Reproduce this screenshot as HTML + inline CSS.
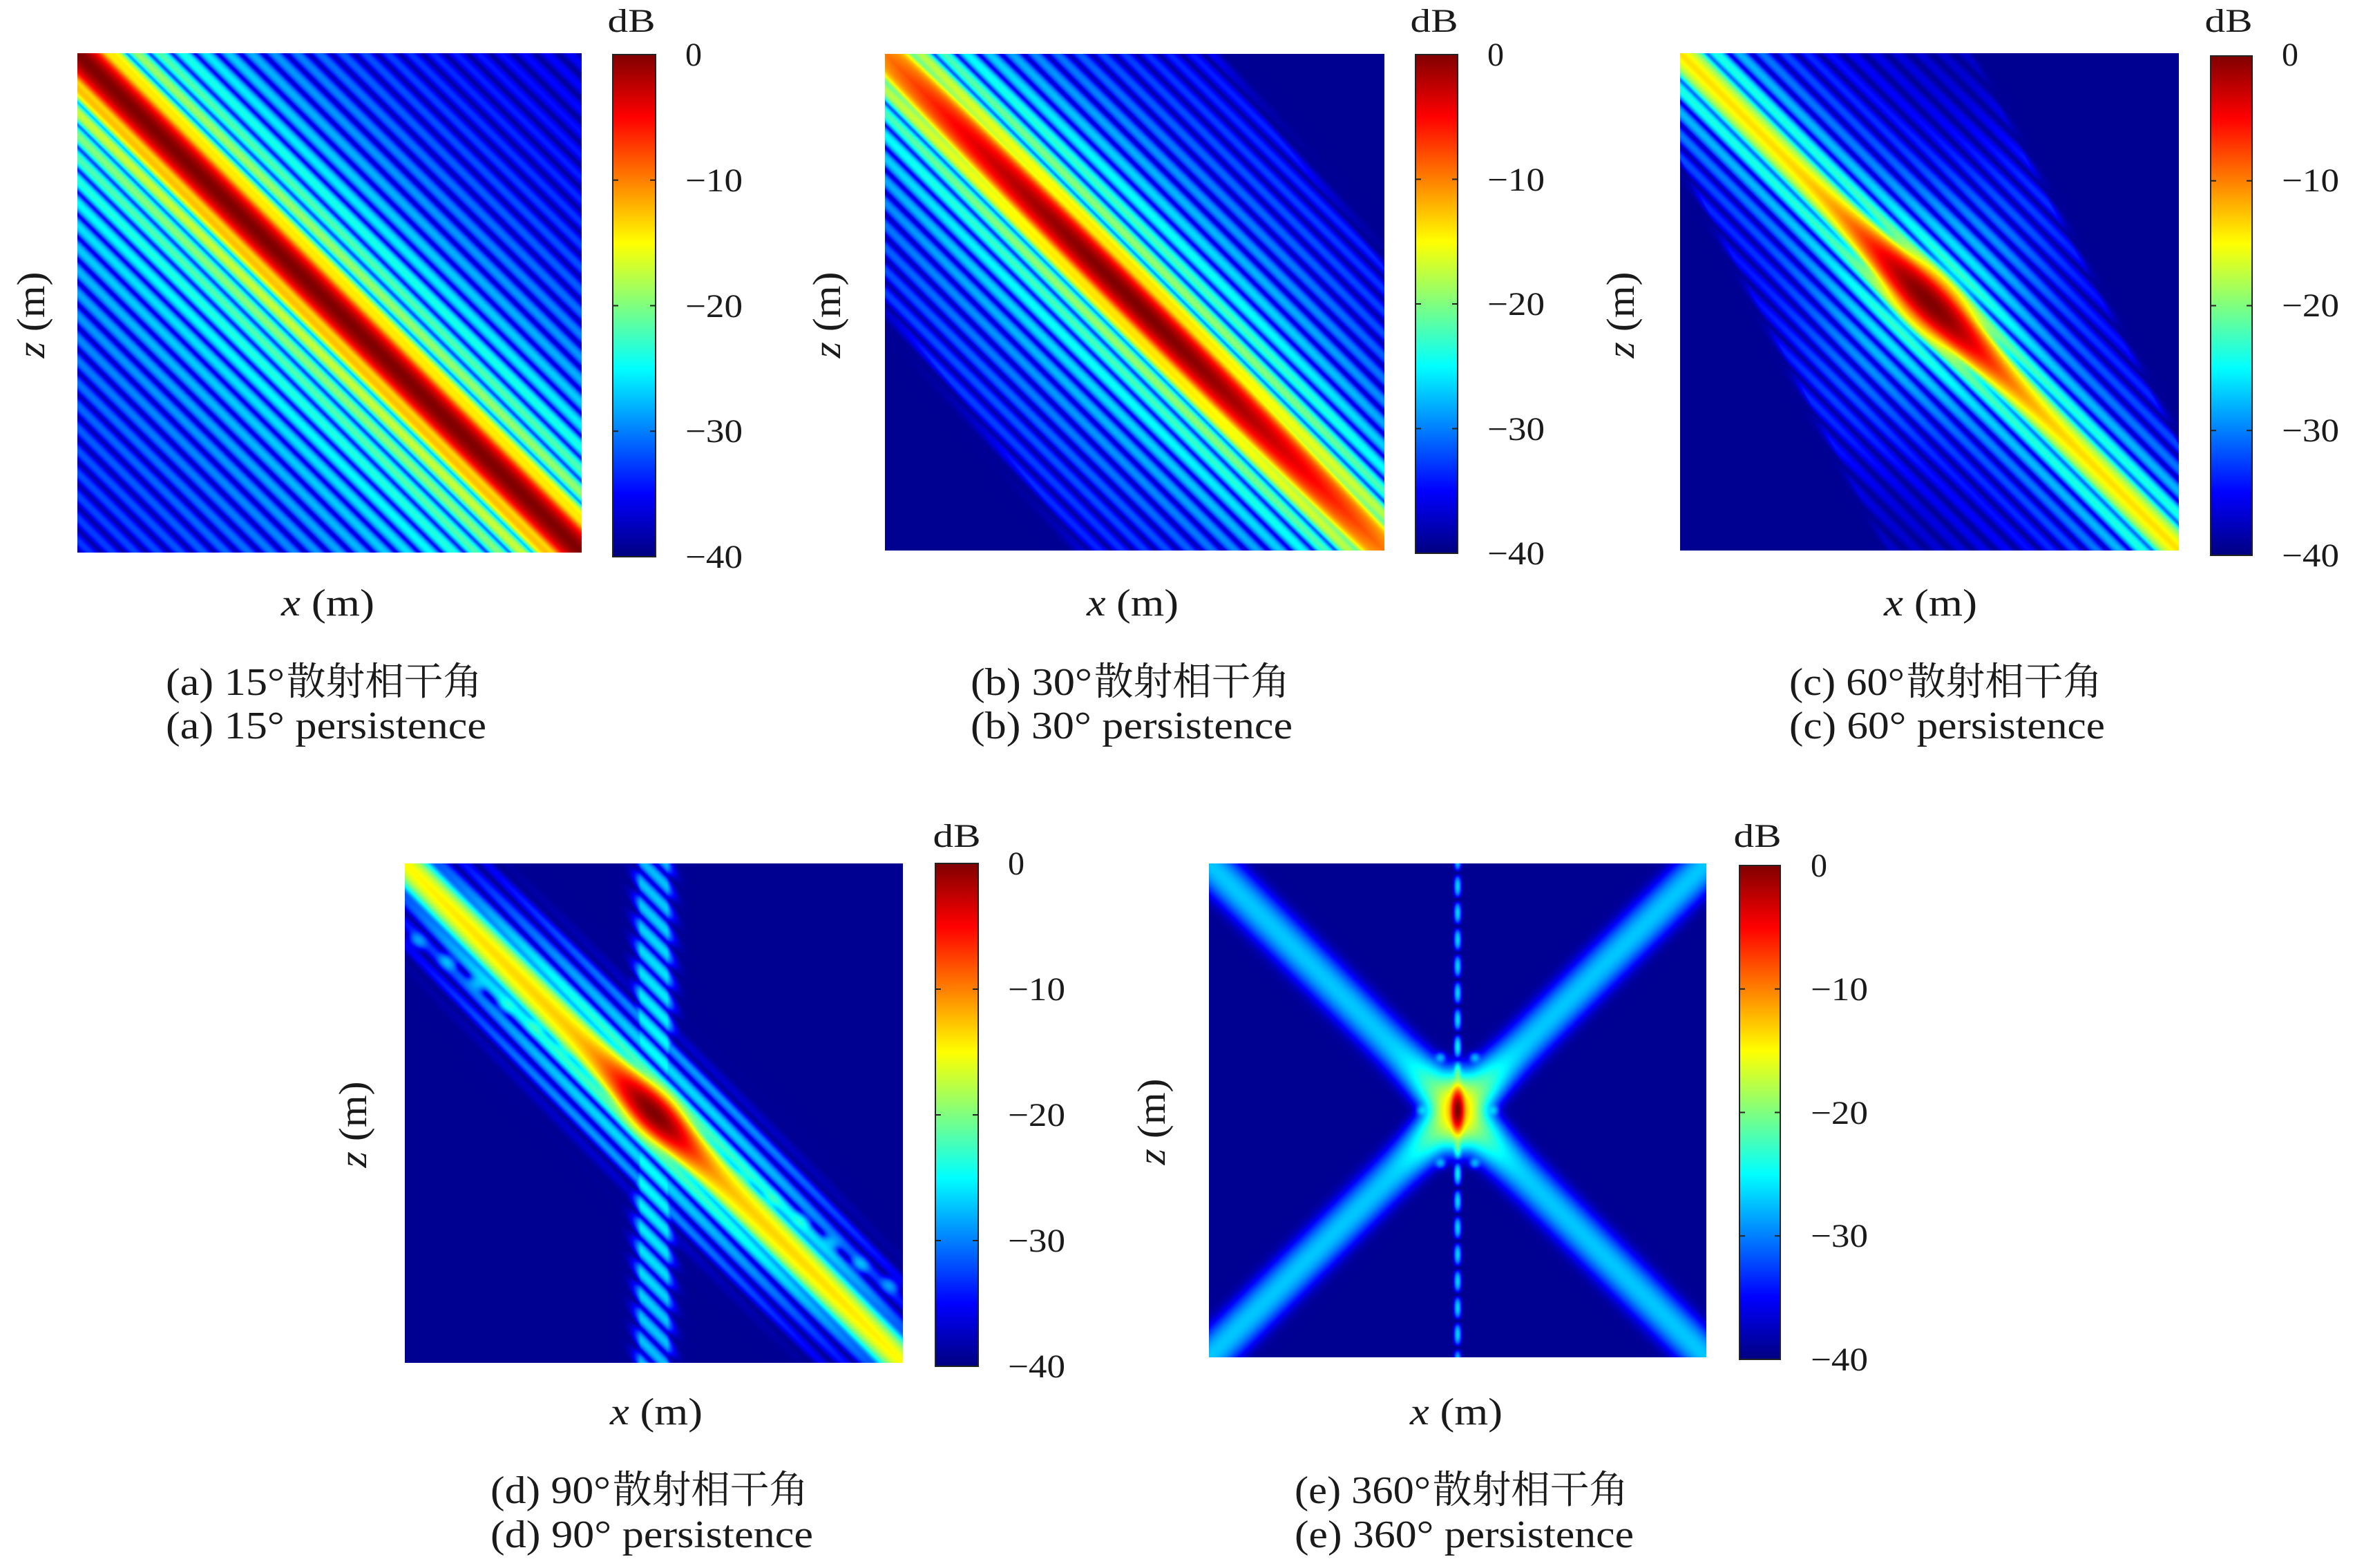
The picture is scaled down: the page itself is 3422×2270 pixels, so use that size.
<!DOCTYPE html>
<html><head><meta charset="utf-8">
<style>
html,body{margin:0;padding:0;background:#fff;}
body{width:3422px;height:2270px;position:relative;overflow:hidden;}
#ov{position:absolute;left:0;top:0;}
canvas{position:absolute;}
text{font-family:"Liberation Serif","Noto Serif CJK SC",serif;fill:#1a1a1a;}
.cj{font-family:"Noto Serif CJK SC","Noto Sans CJK SC",serif;}
</style></head><body>
<svg id="ov" width="3422" height="2270" viewBox="0 0 3422 2270" xmlns="http://www.w3.org/2000/svg">
<defs>
<linearGradient id="jet" x1="0" y1="0" x2="0" y2="1">
<stop offset="0" stop-color="#800000"/>
<stop offset="0.125" stop-color="#ff0000"/>
<stop offset="0.375" stop-color="#ffff00"/>
<stop offset="0.625" stop-color="#00ffff"/>
<stop offset="0.875" stop-color="#0000ff"/>
<stop offset="1" stop-color="#000080"/>
</linearGradient>
</defs>
<rect x="112" y="77" width="730" height="723" fill="#00008f"/>
<rect x="1281" y="78" width="723" height="719" fill="#00008f"/>
<rect x="2432" y="77" width="722" height="720" fill="#00008f"/>
<rect x="586" y="1250" width="721" height="723" fill="#00008f"/>
<rect x="1750" y="1250" width="720" height="715" fill="#00008f"/>

<g stroke="#222" stroke-width="2">
<rect x="887" y="79" width="62" height="727" fill="url(#jet)"/>
<line x1="887" y1="260.75" x2="895" y2="260.75"/><line x1="941" y1="260.75" x2="949" y2="260.75"/>
<line x1="887" y1="442.5" x2="895" y2="442.5"/><line x1="941" y1="442.5" x2="949" y2="442.5"/>
<line x1="887" y1="624.25" x2="895" y2="624.25"/><line x1="941" y1="624.25" x2="949" y2="624.25"/>

<rect x="2049" y="79" width="61" height="722" fill="url(#jet)"/>
<line x1="2049" y1="259.5" x2="2057" y2="259.5"/><line x1="2102" y1="259.5" x2="2110" y2="259.5"/>
<line x1="2049" y1="440" x2="2057" y2="440"/><line x1="2102" y1="440" x2="2110" y2="440"/>
<line x1="2049" y1="620.5" x2="2057" y2="620.5"/><line x1="2102" y1="620.5" x2="2110" y2="620.5"/>

<rect x="3200" y="81" width="60" height="723" fill="url(#jet)"/>
<line x1="3200" y1="261.75" x2="3208" y2="261.75"/><line x1="3252" y1="261.75" x2="3260" y2="261.75"/>
<line x1="3200" y1="442.5" x2="3208" y2="442.5"/><line x1="3252" y1="442.5" x2="3260" y2="442.5"/>
<line x1="3200" y1="623.25" x2="3208" y2="623.25"/><line x1="3252" y1="623.25" x2="3260" y2="623.25"/>

<rect x="1354" y="1250" width="62" height="728" fill="url(#jet)"/>
<line x1="1354" y1="1432" x2="1362" y2="1432"/><line x1="1408" y1="1432" x2="1416" y2="1432"/>
<line x1="1354" y1="1614" x2="1362" y2="1614"/><line x1="1408" y1="1614" x2="1416" y2="1614"/>
<line x1="1354" y1="1796" x2="1362" y2="1796"/><line x1="1408" y1="1796" x2="1416" y2="1796"/>

<rect x="2518" y="1253" width="59" height="715" fill="url(#jet)"/>
<line x1="2518" y1="1431.75" x2="2526" y2="1431.75"/><line x1="2569" y1="1431.75" x2="2577" y2="1431.75"/>
<line x1="2518" y1="1610.5" x2="2526" y2="1610.5"/><line x1="2569" y1="1610.5" x2="2577" y2="1610.5"/>
<line x1="2518" y1="1789.25" x2="2526" y2="1789.25"/><line x1="2569" y1="1789.25" x2="2577" y2="1789.25"/>
</g>

<g font-size="48" text-anchor="middle">
<text x="914" y="46" textLength="69" lengthAdjust="spacingAndGlyphs">dB</text>
<text x="2076" y="46" textLength="69" lengthAdjust="spacingAndGlyphs">dB</text>
<text x="3226" y="46" textLength="69" lengthAdjust="spacingAndGlyphs">dB</text>
<text x="1385" y="1226" textLength="69" lengthAdjust="spacingAndGlyphs">dB</text>
<text x="2544" y="1226" textLength="69" lengthAdjust="spacingAndGlyphs">dB</text>
</g>

<g font-size="48">
<text x="992" y="95" textLength="24" lengthAdjust="spacingAndGlyphs">0</text>
<text x="992" y="277" textLength="83" lengthAdjust="spacingAndGlyphs">−10</text>
<text x="992" y="459" textLength="83" lengthAdjust="spacingAndGlyphs">−20</text>
<text x="992" y="640" textLength="83" lengthAdjust="spacingAndGlyphs">−30</text>
<text x="992" y="822" textLength="83" lengthAdjust="spacingAndGlyphs">−40</text>

<text x="2153" y="95" textLength="24" lengthAdjust="spacingAndGlyphs">0</text>
<text x="2153" y="276" textLength="83" lengthAdjust="spacingAndGlyphs">−10</text>
<text x="2153" y="456" textLength="83" lengthAdjust="spacingAndGlyphs">−20</text>
<text x="2153" y="637" textLength="83" lengthAdjust="spacingAndGlyphs">−30</text>
<text x="2153" y="817" textLength="83" lengthAdjust="spacingAndGlyphs">−40</text>

<text x="3303" y="95" textLength="24" lengthAdjust="spacingAndGlyphs">0</text>
<text x="3303" y="277" textLength="83" lengthAdjust="spacingAndGlyphs">−10</text>
<text x="3303" y="458" textLength="83" lengthAdjust="spacingAndGlyphs">−20</text>
<text x="3303" y="639" textLength="83" lengthAdjust="spacingAndGlyphs">−30</text>
<text x="3303" y="820" textLength="83" lengthAdjust="spacingAndGlyphs">−40</text>

<text x="1459" y="1266" textLength="24" lengthAdjust="spacingAndGlyphs">0</text>
<text x="1459" y="1448" textLength="83" lengthAdjust="spacingAndGlyphs">−10</text>
<text x="1459" y="1630" textLength="83" lengthAdjust="spacingAndGlyphs">−20</text>
<text x="1459" y="1812" textLength="83" lengthAdjust="spacingAndGlyphs">−30</text>
<text x="1459" y="1994" textLength="83" lengthAdjust="spacingAndGlyphs">−40</text>

<text x="2621" y="1269" textLength="24" lengthAdjust="spacingAndGlyphs">0</text>
<text x="2621" y="1448" textLength="83" lengthAdjust="spacingAndGlyphs">−10</text>
<text x="2621" y="1627" textLength="83" lengthAdjust="spacingAndGlyphs">−20</text>
<text x="2621" y="1805" textLength="83" lengthAdjust="spacingAndGlyphs">−30</text>
<text x="2621" y="1984" textLength="83" lengthAdjust="spacingAndGlyphs">−40</text>
</g>

<g font-size="55">
<text x="407" y="891" textLength="135" lengthAdjust="spacingAndGlyphs"><tspan font-style="italic">x</tspan> (m)</text>
<text x="1573" y="891" textLength="133" lengthAdjust="spacingAndGlyphs"><tspan font-style="italic">x</tspan> (m)</text>
<text x="2727" y="891" textLength="135" lengthAdjust="spacingAndGlyphs"><tspan font-style="italic">x</tspan> (m)</text>
<text x="883" y="2062" textLength="134" lengthAdjust="spacingAndGlyphs"><tspan font-style="italic">x</tspan> (m)</text>
<text x="2041" y="2062" textLength="134" lengthAdjust="spacingAndGlyphs"><tspan font-style="italic">x</tspan> (m)</text>
</g>

<g font-size="57" text-anchor="middle">
<text x="64" y="456" transform="rotate(-90 64 456)" textLength="125" lengthAdjust="spacingAndGlyphs"><tspan font-style="italic">z</tspan> (m)</text>
<text x="1216" y="456" transform="rotate(-90 1216 456)" textLength="125" lengthAdjust="spacingAndGlyphs"><tspan font-style="italic">z</tspan> (m)</text>
<text x="2365" y="456" transform="rotate(-90 2365 456)" textLength="125" lengthAdjust="spacingAndGlyphs"><tspan font-style="italic">z</tspan> (m)</text>
<text x="530" y="1628" transform="rotate(-90 530 1628)" textLength="125" lengthAdjust="spacingAndGlyphs"><tspan font-style="italic">z</tspan> (m)</text>
<text x="1686" y="1624" transform="rotate(-90 1686 1624)" textLength="125" lengthAdjust="spacingAndGlyphs"><tspan font-style="italic">z</tspan> (m)</text>
</g>

<g font-size="56">
<text x="240" y="1006" textLength="172" lengthAdjust="spacingAndGlyphs">(a) 15°</text>
<text class="cj" x="415" y="1006" textLength="283" lengthAdjust="spacingAndGlyphs">散射相干角</text>
<text x="240" y="1069" textLength="464" lengthAdjust="spacingAndGlyphs">(a) 15° persistence</text>

<text x="1405" y="1006" textLength="176" lengthAdjust="spacingAndGlyphs">(b) 30°</text>
<text class="cj" x="1584" y="1006" textLength="283" lengthAdjust="spacingAndGlyphs">散射相干角</text>
<text x="1405" y="1069" textLength="466" lengthAdjust="spacingAndGlyphs">(b) 30° persistence</text>

<text x="2590" y="1006" textLength="167" lengthAdjust="spacingAndGlyphs">(c) 60°</text>
<text class="cj" x="2760" y="1006" textLength="283" lengthAdjust="spacingAndGlyphs">散射相干角</text>
<text x="2590" y="1069" textLength="457" lengthAdjust="spacingAndGlyphs">(c) 60° persistence</text>

<text x="710" y="2176" textLength="174" lengthAdjust="spacingAndGlyphs">(d) 90°</text>
<text class="cj" x="887" y="2176" textLength="283" lengthAdjust="spacingAndGlyphs">散射相干角</text>
<text x="710" y="2240" textLength="467" lengthAdjust="spacingAndGlyphs">(d) 90° persistence</text>

<text x="1874" y="2176" textLength="197" lengthAdjust="spacingAndGlyphs">(e) 360°</text>
<text class="cj" x="2074" y="2176" textLength="283" lengthAdjust="spacingAndGlyphs">散射相干角</text>
<text x="1874" y="2240" textLength="491" lengthAdjust="spacingAndGlyphs">(e) 360° persistence</text>
</g>
</svg>

<canvas id="cA" width="730" height="723" style="left:112px;top:77px"></canvas>
<canvas id="cB" width="723" height="719" style="left:1281px;top:78px"></canvas>
<canvas id="cC" width="722" height="720" style="left:2432px;top:77px"></canvas>
<canvas id="cD" width="721" height="723" style="left:586px;top:1250px"></canvas>
<canvas id="cE" width="720" height="715" style="left:1750px;top:1250px"></canvas>

<script>
(function(){
const SQ2=Math.SQRT2, PI=Math.PI;
const P=d=>Math.pow(10,d/10);
const FLOOR=P(-39.3);
function sin2(a){const s=Math.sin(a);return s*s;}
function fr(at){return 0.06+0.94*sin2(PI*(at-50)/23);}
function lg(a){return 20*Math.log10(Math.max(a,30)/30);}
function cl(x){return x<0?0:(x>1?1:x);}

function fA(X,Y){
  const t=(X-Y)/SQ2, at=Math.abs(t);
  let p=P(-9*(t/23)*(t/23));
  let env=(t<0?-11:-13)-lg(at);
  if(t<0) env+=1.5*Math.max(0,at-150)/350;
  p+=P(env)*fr(at);
  return p;
}
function fB(X,Y){
  const t=(X-Y)/SQ2, s=(X+Y)/SQ2, at=Math.abs(t);
  const Lp=-10*(s/511)*(s/511);
  let p=P(Lp-9*(t/23)*(t/23));
  let env=-12.5-1.1*lg(at)+0.4*Lp;
  const u=X-0.8*Y;
  if(u>400) env-=(u-400)*0.5;
  if(u<-360) env-=(-360-u)*0.5;
  p+=P(env)*fr(at);
  return p;
}
function fC(X,Y){
  const t=(X-Y)/SQ2, s=(X+Y)/SQ2, at=Math.abs(t);
  const g=Math.exp(-(s/150)*(s/150));
  const Lp=-14*(1-g);
  const w=18+10*Math.exp(-(s/100)*(s/100));
  let p=P(Lp-9*(t/w)*(t/w));
  let env=-17-lg(at)-5*(1-g);
  const u=X-0.53*Y, au=Math.abs(u);
  if(au>250) env-=(au-250)*1.0;
  p+=P(env)*fr(at);
  return p;
}
function fD(X,Y){
  const t=(X-Y)/SQ2, s=(X+Y)/SQ2, at=Math.abs(t);
  const Lp=-13*(1-Math.exp(-(s/90)*(s/90)))-2*(s/511)*(s/511);
  const w=21+3*Math.exp(-(s/60)*(s/60));
  let p=P(Lp-9*(t/w)*(t/w));
  let envD=-20.5-lg(at)-6*(s/360)*(s/360);
  if(at>85) envD-=(at-85)*0.45;
  const ax=Math.abs(X);
  let envV=-24-4*Math.abs(Y)/361;
  if(ax>19) envV-=(ax-19)*0.9;
  p+=P(Math.max(envD,envV))*fr(at);
  const k=0.73, n=Math.sqrt(1+k*k);
  const d2=(Y-k*X)/n, a=(X+k*Y)/n;
  if(ax>55 && at>22){
    const c=Math.cos(PI*a/53);
    const fade=-4*(a/420)*(a/420);
    p+=P(-26+fade)*Math.exp(-(d2/8)*(d2/8))*c*c*c*c;
  }
  return p;
}
const blobs=[[-25,-77],[25,-77],[-52,0],[52,0],[-25,77],[25,77]];
function fE(X,Y){
  const t1=(X-Y)/SQ2, t2=(X+Y)/SQ2;
  const r=Math.hypot(X,Y);
  const Lb=-27.5+10*Math.exp(-(r/75)*(r/75));
  let p=P(Lb-3*(t1/17.5)*(t1/17.5))+P(Lb-3*(t2/17.5)*(t2/17.5));
  p+=P(-10*((X/9)*(X/9)+(Y/28)*(Y/28)));
  p+=P(-15-6*((X/22)*(X/22)+(Y/38)*(Y/38)));
  const ay=Math.abs(Y);
  const Ld=-27+8*Math.exp(-(ay/70)*(ay/70));
  const c=Math.cos(PI*(ay-55)/39);
  p+=P(Ld-8*(X/5)*(X/5))*c*c;
  for(let i=0;i<blobs.length;i++){
    const dx=X-blobs[i][0], dy=Y-blobs[i][1];
    p+=P(-29-8*((dx*dx+dy*dy)/64));
  }
  return p;
}
function draw(id,fn){
  const c=document.getElementById(id); if(!c||!c.getContext) return;
  const W=c.width,H=c.height,ctx=c.getContext('2d');
  const im=ctx.createImageData(W,H), d=im.data, S=723;
  for(let y=0;y<H;y++){
    const Y=(y+0.5-H/2)*S/H;
    for(let x=0;x<W;x++){
      const X=(x+0.5-W/2)*S/W;
      const p=fn(X,Y)+FLOOR;
      let v=(10*Math.log10(p)+40)/40; v=cl(v);
      const i=(y*W+x)*4;
      d[i]=255*cl(1.5-Math.abs(4*v-3));
      d[i+1]=255*cl(1.5-Math.abs(4*v-2));
      d[i+2]=255*cl(1.5-Math.abs(4*v-1));
      d[i+3]=255;
    }
  }
  ctx.putImageData(im,0,0);
}
draw('cA',fA);draw('cB',fB);draw('cC',fC);draw('cD',fD);draw('cE',fE);
})();
</script>
</body></html>
